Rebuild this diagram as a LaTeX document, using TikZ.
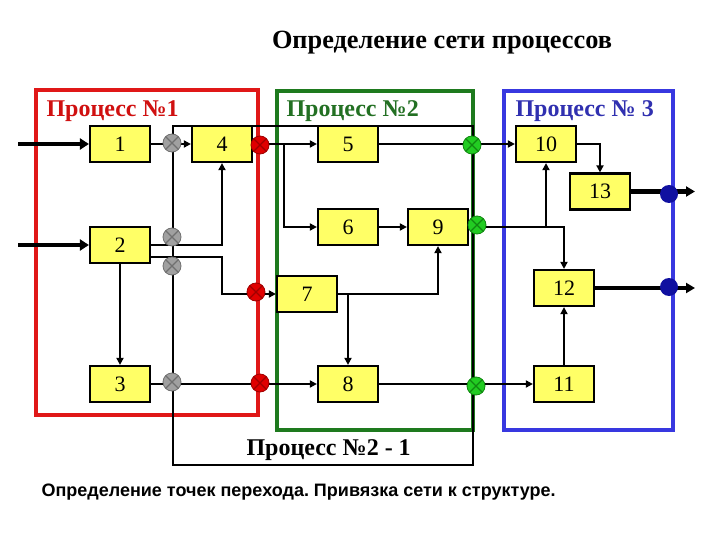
\documentclass[tikz,border=0pt]{standalone}
\usepackage{fontspec}
\setmainfont{Liberation Serif}
\setsansfont{Liberation Sans}
\usetikzlibrary{arrows.meta,calc}
\definecolor{boxyellow}{HTML}{FFFF66}
\definecolor{fred}{HTML}{E01818}
\definecolor{tred}{HTML}{D01010}
\definecolor{fgreen}{HTML}{1E7A1E}
\definecolor{tgreen}{HTML}{237023}
\definecolor{fblue}{HTML}{3838E0}
\definecolor{tblue}{HTML}{3030B0}
\definecolor{cgray}{HTML}{A0A0A0}
\definecolor{cgrayd}{HTML}{707070}
\definecolor{cred}{HTML}{E00000}
\definecolor{credd}{HTML}{A00000}
\definecolor{cgreen}{HTML}{22CC22}
\definecolor{cgreend}{HTML}{108810}
\definecolor{cblue}{HTML}{1010A0}
\frenchspacing
\begin{document}
\begin{tikzpicture}[x=1pt,y=-1pt,
  box/.style={draw=black,line width=2.2pt,fill=boxyellow,minimum width=60pt,minimum height=36pt,inner sep=0pt,font=\fontsize{22}{22}\selectfont},
  conn/.style={line width=2.5pt,-{Triangle[length=7pt,width=7pt]}},
  io/.style={line width=4.5pt,-{Triangle[length=9pt,width=11pt]}},
  outl/.style={line width=4.5pt,-{Triangle[length=9pt,width=10pt]}},
  frame/.style={line width=3.5pt},
  lab/.style={anchor=base west,font=\bfseries\fontsize{24}{24}\selectfont},
  xc/.style={circle,minimum size=18pt,inner sep=0pt,line width=0.8pt,
    path picture={\draw[line width=1.2pt,#1] (path picture bounding box.north west) -- (path picture bounding box.south east) (path picture bounding box.north east) -- (path picture bounding box.south west);}},
  gc/.style={xc=cgrayd,fill=cgray,draw=cgrayd},
  rc/.style={xc=credd,fill=cred,draw=credd},
  grc/.style={xc=cgreend,fill=cgreen,draw=cgreend},
  bc/.style={circle,minimum size=18pt,inner sep=0pt,fill=cblue}
]
\useasboundingbox (0,0) rectangle (720,540);
\fill[white] (0,0) rectangle (720,540);

% process frames
\draw[frame,draw=fred] (36,90) rectangle (258,415);
\draw[frame,draw=fgreen] (277,91) rectangle (473,430);
\draw[frame,draw=fblue] (504,91) rectangle (673,430);
\draw[line width=2.5pt] (173,126) rectangle (473,465);

% boxes
\node[box] (b1) at (120,144) {1};
\node[box] (b4) at (222,144) {4};
\node[box] (b2) at (120,245) {2};
\node[box] (b3) at (120,384) {3};
\node[box] (b5) at (348,144) {5};
\node[box] (b6) at (348,227) {6};
\node[box] (b9) at (438,227) {9};
\node[box] (b7) at (307,294) {7};
\node[box] (b8) at (348,384) {8};
\node[box] (b10) at (546,144) {10};
\node[box] (b13) at (600,191.5) {13};
\node[box] (b12) at (564,288) {12};
\node[box] (b11) at (564,384) {11};

% free ends
\coordinate (in1) at (18,144);
\coordinate (in2) at (18,245);
\coordinate (o1) at (695,191.5);
\coordinate (o2) at (695,288);

% connectors
\draw[io] (in1) -- (b1.west);
\draw[io] (in2) -- (b2.west);
\draw[conn] (b1.east) -- (b4.west);
\draw[conn] (b2.east) -| (b4.south);
\draw[conn] ($(b2.east)+(0,12)$) -| (b4.south |- b7.west) -- (b7.west);
\draw[conn] (b2.south) -- (b3.north);
\draw[conn] (b3.east) -- (b8.west);
\draw[conn] (b4.east) -- (b5.west);
\draw[conn] ($(b5.west)+(-33,0)$) |- (b6.west);
\draw[conn] (b5.east) -- (b10.west);
\draw[conn] (b6.east) -- (b9.west);
\draw[conn] (b7.east) -| (b9.south);
\draw[conn] (b7.east -| b8.north) -- (b8.north);
\draw[conn] (b8.east) -- (b11.west);
\draw[conn] (b9.east) -| (b12.north);
\draw[conn] (b9.east -| b10.south) -- (b10.south);
\draw[conn] (b10.east) -| (b13.north);
\draw[conn] (b11.north) -- (b12.south);
\draw[outl] (b13.east) -- (o1);
\draw[outl] (b12.east) -- (o2);

% transition points
\node[gc] (g1) at (172,143) {};
\node[gc] (g2) at (172,237) {};
\node[gc] (g3) at (172,266) {};
\node[gc] (g4) at (172,382) {};
\node[rc] (r1) at (260,145) {};
\node[rc] (r2) at (256,292) {};
\node[rc] (r3) at (260,383) {};
\node[grc] (gr1) at (472,145) {};
\node[grc] (gr2) at (477,225) {};
\node[grc] (gr3) at (476,386) {};
\node[bc] (bl1) at (669,194) {};
\node[bc] (bl2) at (669,287) {};

% labels
\node[anchor=base,font=\bfseries\fontsize{26.3}{26.3}\selectfont] (title) at (442,49) {Определение сети процессов};
\node[lab,text=tred] (l1) at (43,117) {Процесс №1};
\node[lab,text=tgreen] (l2) at (283,117) {Процесс №2};
\node[lab,text=tblue] (l3) at (512,117) {Процесс № 3};
\node[lab] (l21) at (243,455) {Процесс №2 - 1};
\node[anchor=base west,font=\sffamily\bfseries\fontsize{18}{18}\selectfont] (cap) at (38,496) {Определение точек перехода. Привязка сети к структуре.};
\end{tikzpicture}
\end{document}
